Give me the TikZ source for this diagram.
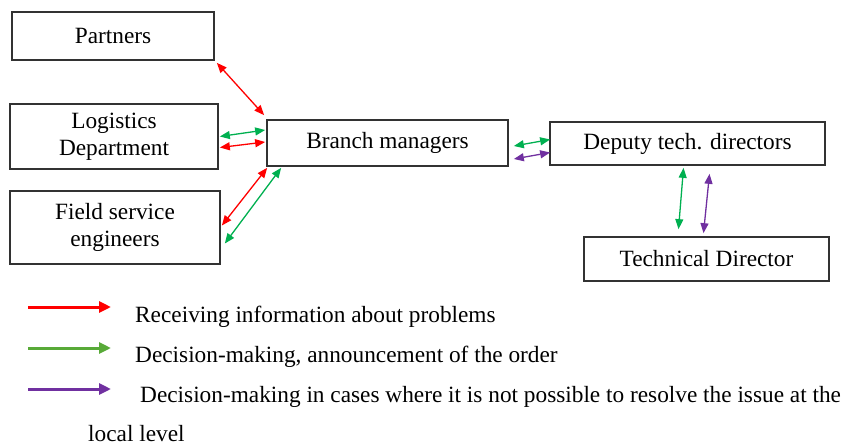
\documentclass[tikz,border=0pt]{standalone}
\usepackage{fontspec}
\setmainfont{Liberation Serif}
\usetikzlibrary{arrows.meta,calc}
\definecolor{boxline}{RGB}{50,50,50}
\definecolor{cred}{RGB}{255,0,0}
\definecolor{cgreen}{RGB}{0,176,80}
\definecolor{lgreen}{RGB}{88,170,56}
\definecolor{cpurple}{RGB}{112,48,160}
\tikzset{
  box/.style={draw=boxline, line width=1.7pt, inner sep=0pt, align=center,
    font=\fontsize{23.3}{27}\selectfont},
  conn/.style={line width=1.3pt, {Triangle[length=10pt,width=8pt]}-{Triangle[length=10pt,width=8pt]}},
  legarrow/.style={line width=3pt, -{Triangle[length=12pt,width=11pt]}},
  legtext/.style={anchor=base west, inner sep=0pt, font=\fontsize{23.3}{27}\selectfont}
}
\begin{document}
\begin{tikzpicture}[x=1pt,y=-1pt]
\useasboundingbox (0,0) rectangle (843,445);
\node[box, minimum width=202pt, minimum height=48pt] (partners) at (113,36) {Partners};
\node[box, minimum width=208pt, minimum height=65pt] (logistics) at (114,136.5) {Logistics\\Department};
\node[box, minimum width=210pt, minimum height=73pt] (field) at (115,227.5) {Field service\\engineers};
\node[box, minimum width=241pt, minimum height=46pt] (branch) at (387.5,143) {Branch managers};
\node[box, minimum width=275pt, minimum height=43pt] (deputy) at (687.5,143.5) {Deputy tech. directors};
\node[box, minimum width=245pt, minimum height=44pt] (tech) at (706.5,259) {Technical Director};

% connectors
\draw[conn, cred] ($(partners.south east)+(2,2)$) -- ($(branch.north west)+(-2,-4)$);
\draw[conn, cgreen] ($(logistics.east)+(1,0)$) -- ($(branch.west)+(-1,-13)$);
\draw[conn, cred] ($(logistics.east)+(1,11)$) -- ($(branch.west)+(-1,-1)$);
\draw[conn, cred] ($(field.east)+(1,-2)$) -- ($(branch.south west)+(1,1)$);
\draw[conn, cgreen] ($(field.east)+(4,16)$) -- ($(branch.south west)+(15,1)$);
\draw[conn, cgreen] ($(branch.east)+(5,3)$) -- ($(deputy.west)+(1,-4)$);
\draw[conn, cpurple] ($(branch.east)+(5,16)$) -- ($(deputy.west)+(1,9)$);
\draw[conn, cgreen] ($(deputy.south)+(-4,2)$) -- ($(tech.north)+(-28,-7)$);
\draw[conn, cpurple] ($(deputy.south)+(22,8)$) -- ($(tech.north)+(-3,-3)$);

% legend
\coordinate (r1) at (28,307);
\coordinate (r2) at (111,307);
\coordinate (g1) at (28,348);
\coordinate (g2) at (111,348);
\coordinate (p1) at (28,389);
\coordinate (p2) at (111,389);
\draw[legarrow, cred] (r1) -- (r2);
\draw[legarrow, lgreen] (g1) -- (g2);
\draw[legarrow, cpurple] (p1) -- (p2);
\node[legtext] (t1) at (135,322) {Receiving information about problems};
\node[legtext] (t2) at (135,362) {Decision-making, announcement of the order};
\node[legtext] (t3) at (140,402) {Decision-making in cases where it is not possible to resolve the issue at the};
\node[legtext] (t4) at (88,441) {local level};
\end{tikzpicture}
\end{document}
